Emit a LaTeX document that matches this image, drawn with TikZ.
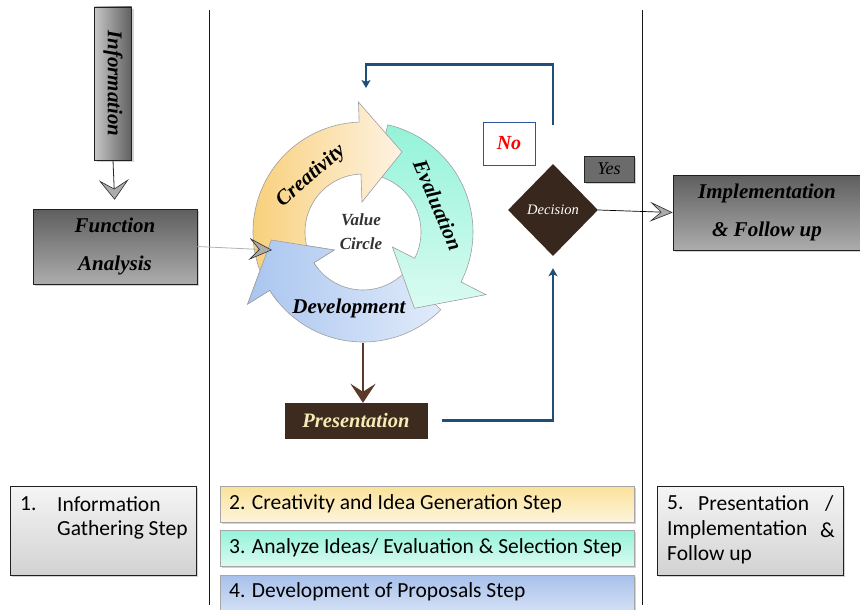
\documentclass[tikz,border=0pt]{standalone}
\usepackage{fontspec}
\setmainfont{Liberation Serif}
\newfontfamily\calibri{Carlito}
\usetikzlibrary{arrows.meta,shadows,shapes.geometric,calc}
\definecolor{blueln}{HTML}{1F4E79}
\definecolor{brownfill}{HTML}{3D2B1F}
\definecolor{brownln}{HTML}{5B3A29}
\definecolor{presfg}{HTML}{F3EDB5}
\definecolor{noblue}{HTML}{2F5597}
\definecolor{yesgray}{HTML}{6B6B6B}
\definecolor{creA}{HTML}{F8CF78}
\definecolor{creB}{HTML}{FEF3E3}
\definecolor{evaA}{HTML}{93F3D9}
\definecolor{evaB}{HTML}{DAFBF1}
\definecolor{devA}{HTML}{A9C5EF}
\definecolor{devB}{HTML}{E1EBFA}
\definecolor{stpA}{HTML}{FBE29A}
\definecolor{stpB}{HTML}{FDF4DA}
\definecolor{stbA}{HTML}{A7C0EA}
\definecolor{stbB}{HTML}{D3E0F6}
\begin{document}
\begin{tikzpicture}[x=1pt,y=-1pt,
  shd/.style={drop shadow={shadow xshift=2pt,shadow yshift=-2pt,opacity=.35}},
  graybox/.style={draw=gray!25!black,line width=0.6pt,shd,inner sep=0pt},
  stepbox/.style={draw=gray!70,line width=0.5pt,shd,minimum width=414,minimum height=36,inner sep=0pt},
  bigt/.style={font=\fontsize{21}{38}\selectfont\bfseries\itshape,align=center},
  calt/.style={font=\calibri\fontsize{21.5}{25}\selectfont,anchor=west,inner sep=0pt},
  ringtxt/.style={font=\fontsize{21}{24}\selectfont\bfseries\itshape},
  arrowbody/.style={draw=gray!75,line width=0.6pt},
  graytipA/.style={-{Stealth[length=20pt,width=30pt,inset=9pt,color=gray!35!black,fill=gray!65,line width=0.6pt]}},
  graytipB/.style={-{Stealth[length=23pt,width=22pt,inset=10pt,color=gray!35!black,fill=gray!65,line width=0.6pt]}},
  blueconn/.style={draw=blueln,line width=2.6pt,-{Stealth[length=8pt,width=9pt,inset=2pt]}},
]
\clip (0,0) rectangle (860,610);
\fill[white] (0,0) rectangle (860,610);

% lane separators
\draw[gray!20!black,line width=0.8pt] (209,10) -- (209,605);
\draw[gray!20!black,line width=0.8pt] (642,10) -- (642,605);

% ---------- value circle ----------
\coordinate (c) at (363,232);
\def\ro{110}\def\ri{58}
% development (blue)
\path[arrowbody,left color=devA,right color=devB]
  ($(c)+(45:\ro)$) arc[start angle=45,end angle=148,radius=\ro]
  -- ($(c)+(148:136)$) -- ($(c)+(175:92)$) -- ($(c)+(148:34)$)
  -- ($(c)+(148:\ri)$) arc[start angle=148,end angle=45,radius=\ri] -- cycle;
% evaluation (teal)
\path[arrowbody,top color=evaA,bottom color=evaB]
  ($(c)+(283:\ro)$) arc[start angle=283,end angle=387,radius=\ro]
  -- ($(c)+(387:138)$) -- ($(c)+(416:92)$) -- ($(c)+(387:33)$)
  -- ($(c)+(387:\ri)$) arc[start angle=387,end angle=283,radius=\ri] -- cycle;
% creativity (orange)
\path[arrowbody,left color=creA,right color=creB]
  ($(c)+(160:\ro)$) arc[start angle=160,end angle=268,radius=\ro]
  -- ($(c)+(268:130)$) -- ($(c)+(296:89)$) -- ($(c)+(268:30)$)
  -- ($(c)+(268:\ri)$) arc[start angle=268,end angle=160,radius=\ri] -- cycle;
% development head on top of creativity tail
\begin{scope}
\clip (c) -- ($(c)+(140:160)$) arc[start angle=140,end angle=190,radius=160] -- cycle;
\path[arrowbody,left color=devA,right color=devB]
  ($(c)+(45:\ro)$) arc[start angle=45,end angle=148,radius=\ro]
  -- ($(c)+(148:136)$) -- ($(c)+(175:92)$) -- ($(c)+(148:34)$)
  -- ($(c)+(148:\ri)$) arc[start angle=148,end angle=45,radius=\ri] -- cycle;
\end{scope}

\node[ringtxt,rotate=41] (tcre) at (311,176) {Creativity};
\node[ringtxt,rotate=-67] (teva) at (438,205) {Evaluation};
\node[ringtxt] (tdev) at (349,308) {Development};
\node[font=\fontsize{17}{24}\selectfont\bfseries\itshape,text=gray!40!black,align=center] (tval) at (361,232) {Value\\Circle};

% ---------- left lane ----------
\node[graybox,minimum width=37,minimum height=153,left color=gray!45,right color=gray!75!black] (info) at (113,83.5) {};
\node[rotate=-90,font=\fontsize{21}{24}\selectfont\bfseries\itshape] (infot) at (info.center) {Information};
\node[graybox,minimum width=164,minimum height=75,top color=gray!60!black!90,bottom color=gray!65,bigt] (fa) at (115,246.5) {Function\\Analysis};
\draw[gray!30!black,line width=0.8pt,graytipA,shorten >=9pt] (info.south) -- (fa.north);
\coordinate (ringin) at (272,250);
\draw[gray!60,line width=0.8pt,graytipB] (fa.east) -- (ringin);

% ---------- presentation / decision ----------
\coordinate (ringbot) at (363,343);
\node[draw=brownfill,fill=brownfill,minimum width=142,minimum height=35,inner sep=0pt,text=presfg,font=\fontsize{20.5}{24}\selectfont\bfseries\itshape] (pres) at (356,420.5) {Presentation};
\draw[brownln,line width=2.6pt,-{Stealth[length=19pt,width=25pt,inset=8pt,fill=brownln]}] (ringbot) -- (ringbot |- pres.north);

\node[diamond,aspect=1,minimum width=90,minimum height=92,inner sep=0pt,fill=brownfill!90!black,text=white,font=\fontsize{14.5}{16}\selectfont\itshape] (dec) at (553,210) {Decision};
\draw[blueconn,shorten <=15pt,shorten >=12pt] (pres.east) -| (dec.south);
\coordinate (fbend) at (366,88);
\draw[blueconn,shorten <=39pt] (dec.north) -- ++(0,-99) -| (fbend);

\node[draw=noblue,fill=white,line width=0.6pt,minimum width=52,minimum height=43,inner sep=0pt,text=red,font=\fontsize{20}{24}\selectfont\bfseries\itshape] (no) at (509,143.5) {No};
\node[draw=gray!30!black,fill=yesgray,line width=0.6pt,shd,minimum width=50,minimum height=26,inner sep=0pt,text=black,font=\fontsize{18}{20}\selectfont\itshape] (yes) at (609,169) {Yes};

% ---------- right lane ----------
\node[graybox,minimum width=188,minimum height=75,top color=gray!60!black!90,bottom color=gray!65,bigt] (impl) at (767,212.5) {Implementation\\\& Follow up};
\draw[black,line width=0.7pt,-{Stealth[length=23pt,width=20pt,inset=11pt,color=gray!35!black,fill=gray!65,line width=0.6pt]}] (dec.east) -- (impl.west);

% ---------- bottom step boxes ----------
\node[graybox,minimum width=186,minimum height=89,top color=gray!8,bottom color=gray!35] (s1) at (103,530.5) {};
\node[calt] (s1a) at (20,504) {1.};
\node[calt] (s1b) at (57,504) {Information};
\node[calt] (s1c) at (57,530) {Gathering Step};

\node[stepbox,top color=stpA,bottom color=stpB] (s2) at (427,504) {};
\node[calt] (s2t) at (229,504) {2. Creativity and Idea Generation Step};
\node[stepbox,top color=evaA,bottom color=evaB] (s3) at (427,548) {};
\node[calt] (s3t) at (229,548) {3. Analyze Ideas/ Evaluation \& Selection Step};
\node[stepbox,top color=stbA,bottom color=stbB] (s4) at (427,593) {};
\node[calt] (s4t) at (229,592) {4. Development of Proposals Step};

\node[graybox,minimum width=186,minimum height=89,top color=gray!8,bottom color=gray!35] (s5) at (750,530.5) {};
\node[calt] (s5a) at (667,503) {5.};
\node[calt] (s5b) at (698,503) {Presentation};
\node[calt] (s5c) at (825,503) {/};
\node[calt] (s5d) at (667,530) {Implementation};
\node[calt] (s5e) at (820,530) {\&};
\node[calt] (s5f) at (667,555) {Follow up};
\end{tikzpicture}
\end{document}
